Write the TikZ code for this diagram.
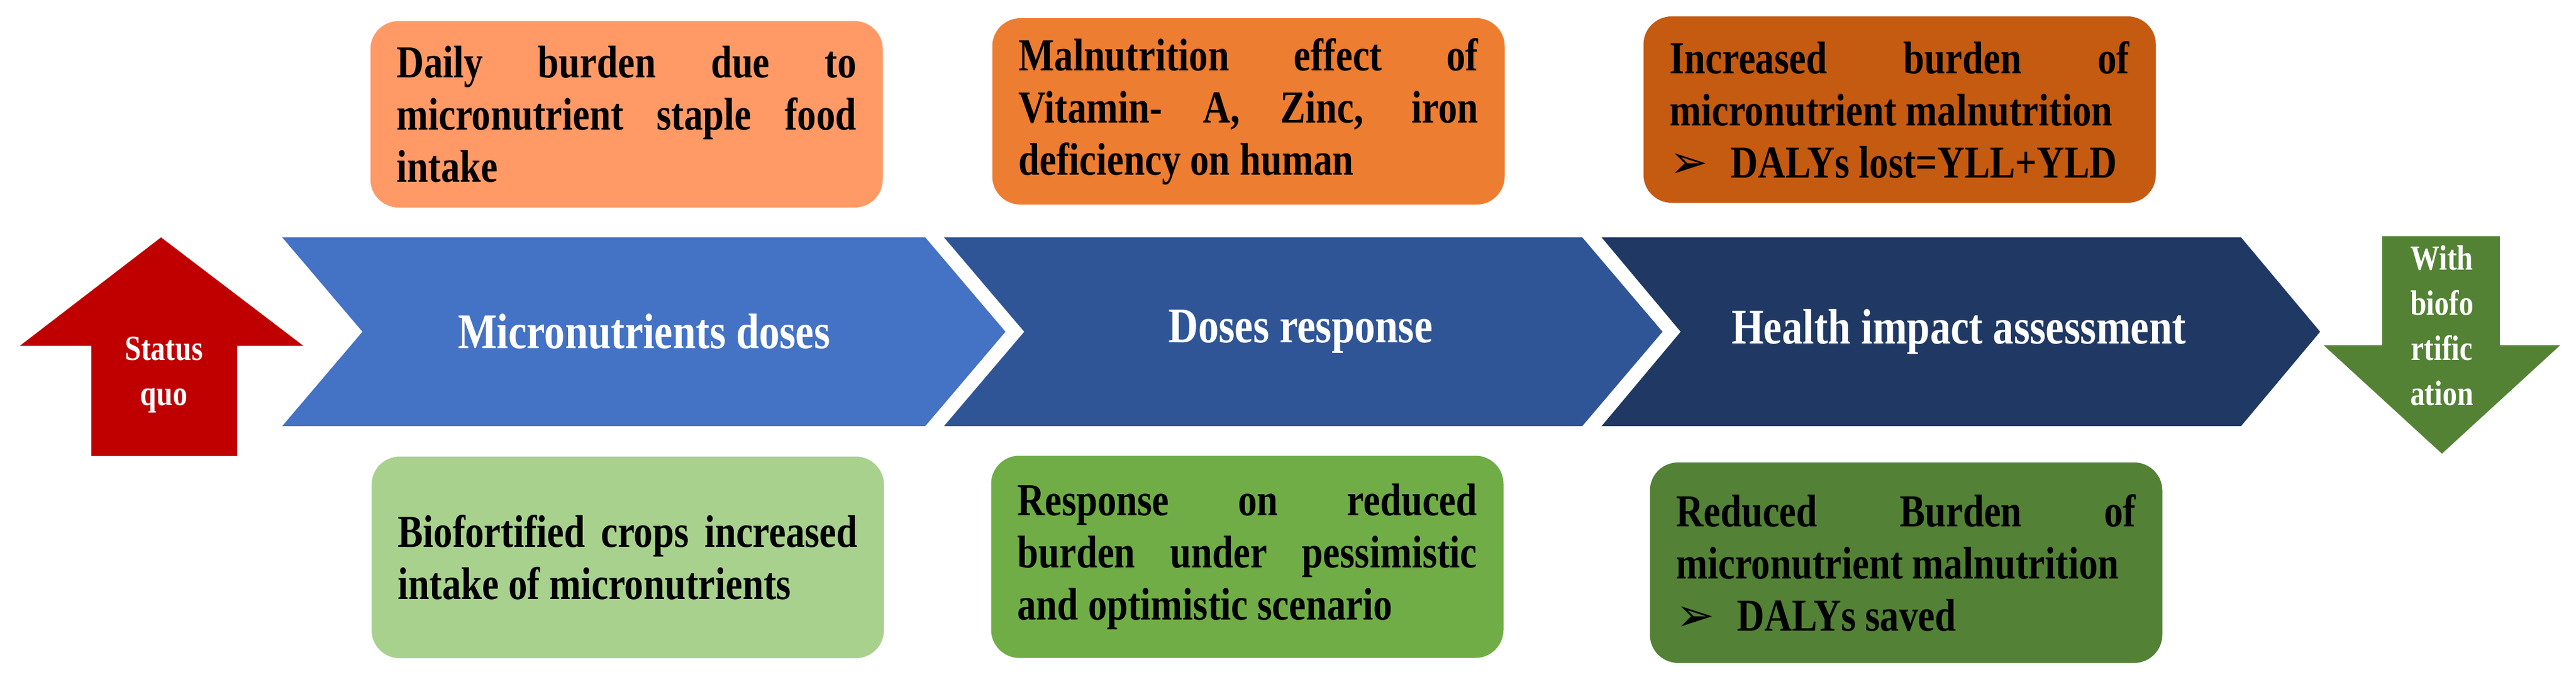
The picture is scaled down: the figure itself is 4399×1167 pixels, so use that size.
\documentclass[tikz,border=0pt]{standalone}
\usepackage{fontspec}
\setmainfont[FakeStretch=0.83]{Liberation Serif}
\newfontfamily\dej{DejaVu Sans}
\definecolor{cA}{HTML}{FF9A66}
\definecolor{cB}{HTML}{ED7D31}
\definecolor{cC}{HTML}{C55A11}
\definecolor{cD}{HTML}{A9D18E}
\definecolor{cE}{HTML}{70AD47}
\definecolor{cF}{HTML}{538135}
\definecolor{ch1}{HTML}{4472C4}
\definecolor{ch2}{HTML}{2F5597}
\definecolor{ch3}{HTML}{203864}
\definecolor{redA}{HTML}{C00000}
\definecolor{grnA}{HTML}{548235}
\hyphenpenalty=10000
\exhyphenpenalty=10000
\begin{document}
\begin{tikzpicture}[x=1pt,y=-1pt,
  box/.style={rounded corners=48pt, minimum width=875pt, minimum height=318pt, inner sep=0pt},
  boxtxt/.style={text width=785pt, align=justify, inner sep=0pt, font=\fontsize{78}{89}\selectfont\bfseries},
  gap/.style={draw=white, line width=12pt, line cap=butt, line join=miter},
  chevtxt/.style={text=white, font=\fontsize{85}{95}\selectfont\bfseries},
  arrtxt/.style={text=white, align=center, font=\fontsize{60}{77}\selectfont\bfseries}]
\useasboundingbox (0,0) rectangle (4399,1167);
% chevrons
\fill[ch1] (482,405) -- (1580,405) -- (1717,566) -- (1580,727) -- (482,727) -- (619,566) -- cycle;
\fill[ch2] (1604,405) -- (2702,405) -- (2839,566) -- (2702,727) -- (1604,727) -- (1741,566) -- cycle;
\draw[gap] (1604,405) -- (1741,566) -- (1604,727);
\fill[ch3] (2727,405) -- (3827,405) -- (3962,566) -- (3827,727) -- (2727,727) -- (2862,566) -- cycle;
\draw[gap] (2727,405) -- (2862,566) -- (2727,727);
\node[chevtxt] (c1) at (1100,566) {Micronutrients doses};
\node[chevtxt] (c2) at (2221,566) {Doses response};
\node[chevtxt] (c3) at (3345,566) {Health impact assessment};
% status quo arrow
\fill[redA] (275,405) -- (518,590) -- (405,590) -- (405,778) -- (156,778) -- (156,590) -- (34,590) -- cycle;
\node[arrtxt] (sq) at (280,640) {Status\\quo};
% biofortification arrow
\fill[grnA] (4068,403) -- (4269,403) -- (4269,589) -- (4372,589) -- (4170,774) -- (3968,589) -- (4068,589) -- cycle;
\node[arrtxt] (wb) at (4170,555) {With\\biofo\\rtific\\ation};
% boxes
\node[box, fill=cA] (b1) at (1070,195) {};
\node[boxtxt] at (b1) {Daily burden due to\linebreak micronutrient staple food\linebreak intake};
\node[box, fill=cB] (b2) at (2132,190) {};
\node[boxtxt] at (b2) {Malnutrition effect of\linebreak Vitamin- A, Zinc, iron\linebreak deficiency on human};
\node[box, fill=cC] (b3) at (3244,187) {};
\node[boxtxt] at (b3) {Increased burden of\linebreak micronutrient malnutrition\\ \hspace*{0pt}{\dej ➢}\enspace DALYs lost=YLL+YLD};
\node[box, fill=cD, minimum height=344pt] (b4) at (1072,951) {};
\node[boxtxt] at (b4) {Biofortified crops increased\linebreak intake of micronutrients};
\node[box, fill=cE, minimum height=345pt] (b5) at (2130,950) {};
\node[boxtxt] at (b5) {Response on reduced\linebreak burden under pessimistic\linebreak and optimistic scenario};
\node[box, fill=cF, minimum height=342pt] (b6) at (3255,960) {};
\node[boxtxt] at (b6) {Reduced Burden of\linebreak micronutrient malnutrition\\ \hspace*{0pt}{\dej ➢}\enspace DALYs saved};
\end{tikzpicture}
\end{document}
